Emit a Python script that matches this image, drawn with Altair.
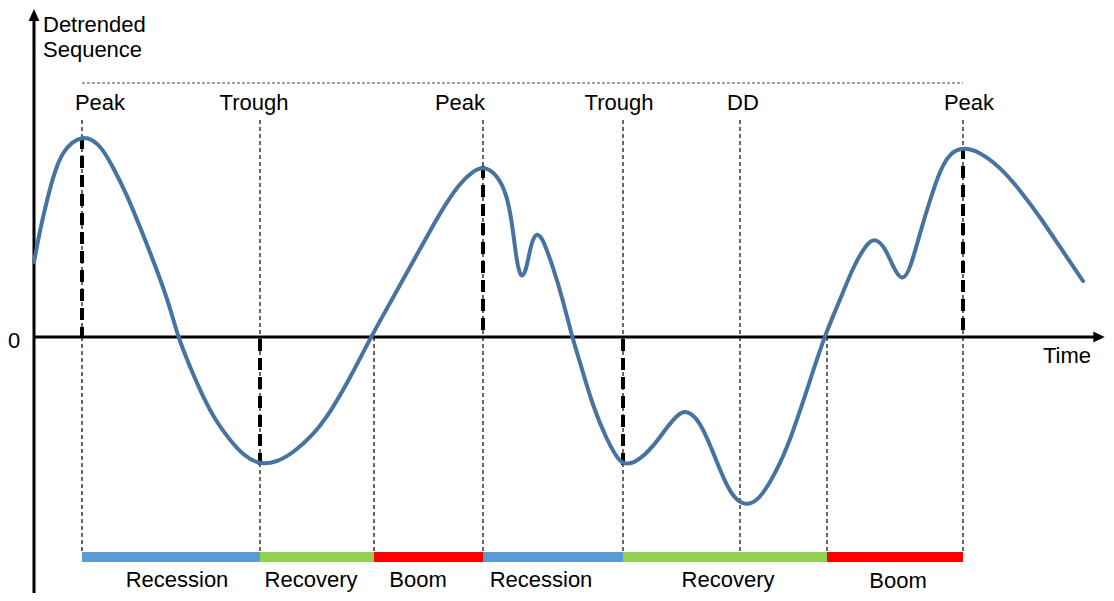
import altair as alt
import pandas as pd

# ---- data (time units, detrended level; 0 = axis) ----
curve_t = [0, 6, 13, 21, 29, 38, 48, 58, 68, 79, 93, 106, 123, 136, 144, 156, 169, 183,
           196, 209, 226, 243, 259, 279, 296, 316, 337, 356, 376, 396, 409, 426, 438, 449,
           463, 473, 478, 482, 484, 487, 490, 492, 497, 500, 503, 506, 510, 519, 529, 538,
           546, 559, 573, 583, 590, 603, 619, 633, 646, 653, 663, 673, 686, 696, 709, 723,
           736, 753, 773, 790, 806, 819, 833, 841, 851, 859, 868, 876, 886, 896, 906, 916,
           929, 946, 966, 986, 1006, 1026, 1049]
curve_v = [75, 107, 137, 167, 185, 195, 200, 198, 189, 170, 142, 110, 67, 30, 0, -30, -60, -86,
           -103, -118, -128, -125, -116, -98, -76, -41, 0, 34, 70, 106, 129, 154, 165, 171,
           163, 142, 114, 82, 70, 60, 63, 67, 92, 100, 103, 101, 95, 70, 37, 0,
           -25, -70, -103, -121, -128, -125, -110, -90, -75, -74, -81, -100, -133, -156, -169, -165,
           -146, -113, -53, 0, 37, 70, 94, 99, 90, 70, 55, 67, 104, 137, 167, 184,
           190, 185, 170, 147, 120, 90, 56]

event_names = ["Peak", "Trough", "Peak", "Trough", "DD", "Peak"]
event_t = [48, 226, 449, 589, 706, 929]
event_label_t = [66, 220, 426, 585, 709, 935]

turn_t = [48, 226, 449, 589, 929]
turn_v = [200, -128, 171, -128, 190]

boom_start_t = [340, 793]

phase_names = ["Recession", "Recovery", "Boom", "Recession", "Recovery", "Boom"]
phase_start = [48, 226, 340, 449, 589, 793]
phase_end = [226, 340, 449, 589, 793, 929]
phase_label_t = [143, 277, 384, 507, 694, 864]
phase_label_v = [-250, -250, -250, -250, -250, -251]
phase_order = ["Recession", "Recovery", "Boom"]
phase_colors = ["#5B9BD5", "#92D050", "#FF0000"]

# ---- scales ----
XS = alt.Scale(domain=[-26, 1072], nice=False, zero=False)
YS = alt.Scale(domain=[-256, 329], nice=False, zero=False)
FONT = "Liberation Sans"
FS = 22


def X(f):
    return alt.X(f, type="quantitative", scale=XS, axis=None)


def Y(f):
    return alt.Y(f, type="quantitative", scale=YS, axis=None)


curve_df = pd.DataFrame({"t": curve_t, "v": curve_v})
ev_df = pd.DataFrame({"t": event_t, "name": event_names, "lt": event_label_t,
                      "top": 217, "bot": -215, "lv": 227})
turn_df = pd.DataFrame({"t": turn_t, "v": turn_v, "zero": 0})
boom_df = pd.DataFrame({"t": boom_start_t, "zero": 0, "bot": -215})
ph_df = pd.DataFrame({"phase": phase_names, "s": phase_start, "e": phase_end,
                      "lt": phase_label_t, "lv": phase_label_v,
                      "b0": -215, "b1": -225})

# thin dashed event guides
thin = alt.Chart(ev_df).mark_rule(color="black", strokeWidth=1.2, strokeDash=[4, 3]).encode(
    x=X("t"), y=Y("top"), y2="bot")
thin_boom = alt.Chart(boom_df).mark_rule(color="black", strokeWidth=1.2, strokeDash=[4, 3]).encode(
    x=X("t"), y=Y("zero"), y2="bot")

# top dotted line
top_df = pd.DataFrame({"t0": [48], "t1": [929], "v": [254]})
top_line = alt.Chart(top_df).mark_rule(color="#444444", strokeWidth=1, strokeDash=[3, 2]).encode(
    x=X("t0"), x2="t1", y=Y("v"))

# thick dashed turning-point drops
thick = alt.Chart(turn_df).mark_rule(color="black", strokeWidth=4, strokeDash=[12, 7]).encode(
    x=X("t"), y=Y("v"), y2="zero")

# axes
axes_df = pd.DataFrame({"x0": [0, 0], "x1": [0, 1062], "y0": [-256, 0], "y1": [322, 0]})
axes = alt.Chart(axes_df).mark_rule(color="black", strokeWidth=3).encode(
    x=X("x0"), x2="x1", y=Y("y0"), y2="y1")

arrow_up = alt.Chart(pd.DataFrame({"t": [0], "v": [322]})).mark_point(
    shape="M0,-1L-0.9,1L0.9,1Z", filled=True, color="black", size=144, opacity=1).encode(
    x=X("t"), y=Y("v"))
arrow_right = alt.Chart(pd.DataFrame({"t": [1065], "v": [0]})).mark_point(
    shape="M1,0L-1,-0.95L-1,0.95Z", filled=True, color="black", size=130, opacity=1).encode(
    x=X("t"), y=Y("v"))

# curve
curve = alt.Chart(curve_df).mark_line(
    color="#46739F", strokeWidth=4, interpolate="basis", strokeCap="round").encode(
    x=X("t"), y=Y("v"))

# phase bars
bars = alt.Chart(ph_df).mark_rect().encode(
    x=X("s"), x2="e", y=Y("b0"), y2="b1",
    color=alt.Color("phase:N", scale=alt.Scale(domain=phase_order, range=phase_colors), legend=None))

phase_text = alt.Chart(ph_df).mark_text(font=FONT, fontSize=FS, color="black",
                                        align="center", baseline="alphabetic").encode(
    x=X("lt"), y=Y("lv"), text="phase:N")

event_text = alt.Chart(ev_df).mark_text(font=FONT, fontSize=FS, color="black",
                                        align="center", baseline="alphabetic").encode(
    x=X("lt"), y=Y("lv"), text="name:N")

ylab_df = pd.DataFrame({"t": [9, 9], "v": [305, 280], "txt": ["Detrended", "Sequence"]})
ylab = alt.Chart(ylab_df).mark_text(font=FONT, fontSize=FS, color="black",
                                    align="left", baseline="alphabetic").encode(
    x=X("t"), y=Y("v"), text="txt:N")

misc_df = pd.DataFrame({"t": [-20, 1033], "v": [-11, -26], "txt": ["0", "Time"]})
misc = alt.Chart(misc_df).mark_text(font=FONT, fontSize=FS, color="black",
                                    align="center", baseline="alphabetic").encode(
    x=X("t"), y=Y("v"), text="txt:N")

chart = alt.layer(
    top_line, thin, thin_boom, thick, axes, arrow_up, arrow_right, curve, bars,
    phase_text, event_text, ylab, misc
).properties(
    width=1098, height=585,
    autosize=alt.AutoSizeParams(type="none"),
    padding=0,
    background="white",
).configure_view(stroke=None)

chart.save("out.html", embed_options={"renderer": "svg", "actions": False})
